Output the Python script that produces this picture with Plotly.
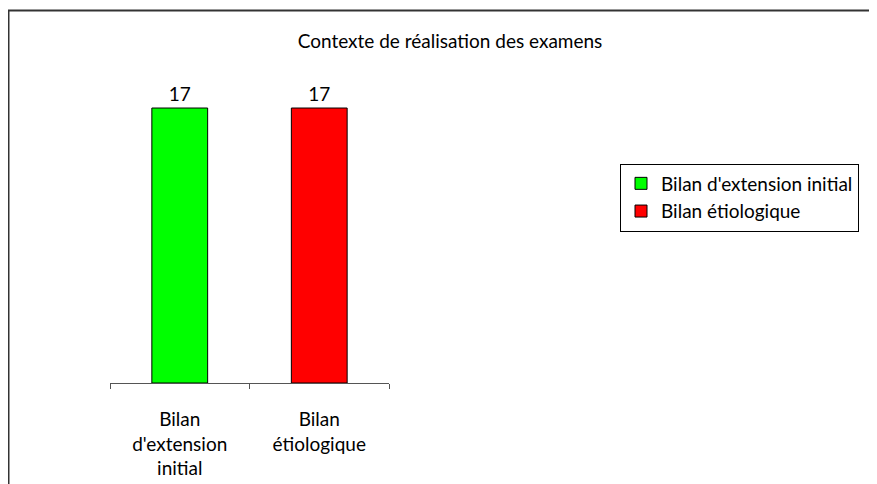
import plotly.graph_objects as go

categories = ["Bilan<br>d'extension<br>initial", "Bilan<br>étiologique"]
series_names = ["Bilan d'extension initial", "Bilan étiologique"]
values = [17, 17]
colors = ["#00ff00", "#ff0000"]
title_text = "Contexte de réalisation des examens"

W, H = 877, 484
OFF = 8  # page body margin
FONT = "Lato"
FS = 19


def px(x):
    return (x - OFF) / W


def py(y):
    return 1 - (y - OFF) / H


fig = go.Figure()
for i, name in enumerate(series_names):
    fig.add_trace(go.Bar(
        x=[categories[i]], y=[values[i]], name=name,
        marker=dict(color=colors[i], line=dict(color="#000000", width=1)),
        text=[str(values[i])], textposition="outside",
        textfont=dict(family=FONT, size=FS, color="#000000"),
        width=0.4, cliponaxis=False,
    ))

fig.update_layout(
    width=W, height=H,
    margin=dict(l=0, r=0, t=0, b=0),
    paper_bgcolor="white", plot_bgcolor="white",
    font=dict(family=FONT, size=FS, color="#000000"),
    barmode="overlay",
    title=dict(text=title_text, x=px(450), xanchor="center", y=py(41.5), yanchor="middle",
               font=dict(family=FONT, size=FS, color="#000000")),
    xaxis=dict(domain=[px(110), px(389)], showline=True, linecolor="#555555", linewidth=1,
               ticks="outside", ticklen=5, tickcolor="#555555", tickson="boundaries",
               categoryorder="array", categoryarray=categories, ticklabelstandoff=19,
               tickfont=dict(family=FONT, size=FS, color="#000000"), showgrid=False),
    yaxis=dict(domain=[py(383), py(59.5)], range=[0, 20], visible=False, showgrid=False),
    legend=dict(x=px(739.5), y=py(197.5), xanchor="center", yanchor="middle",
                bordercolor="#000000", borderwidth=1, bgcolor="white",
                font=dict(family=FONT, size=FS, color="#000000"),
                itemwidth=30, tracegroupgap=0),
    showlegend=True,
    shapes=[dict(type="rect", xref="paper", yref="paper",
                 x0=px(8.5), x1=1.05, y0=-0.05, y1=py(10.5),
                 line=dict(color="#333333", width=2), fillcolor="rgba(0,0,0,0)", layer="below")],
)

fig.write_html("out.html")
